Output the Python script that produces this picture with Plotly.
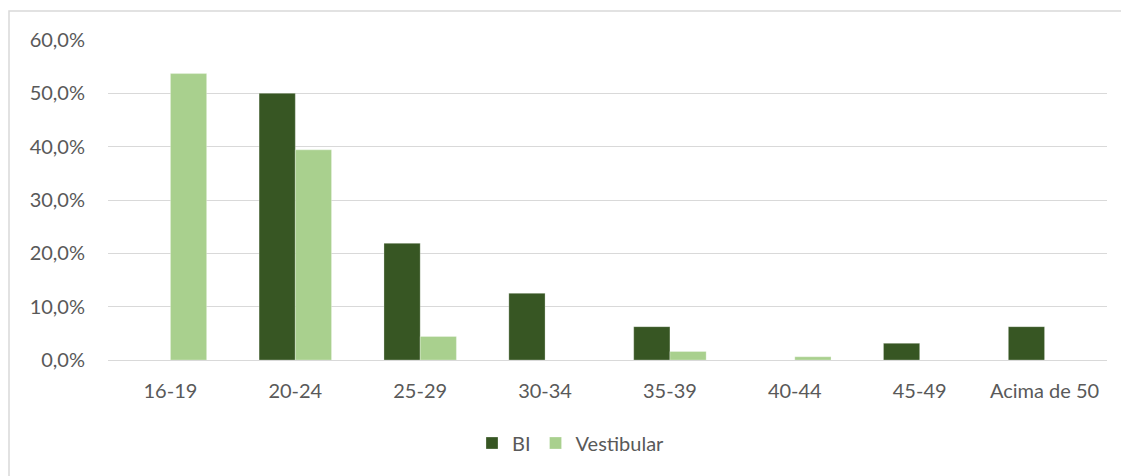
import plotly.graph_objects as go

# Faixas etárias e percentual de ingressantes por forma de ingresso
categorias = ["16-19", "20-24", "25-29", "30-34", "35-39", "40-44", "45-49", "Acima de 50"]
bi = [0.0, 50.0, 21.875, 12.5, 6.25, 0.0, 3.125, 6.25]
vestibular = [53.7, 39.4, 4.4, 0.0, 1.6, 0.6, 0.0, 0.0]
y_ticks = [0, 10, 20, 30, 40, 50, 60]
y_tick_text = [f"{v:.1f}".replace(".", ",") + "%" for v in y_ticks]

COR_BI = "#375623"
COR_VEST = "#A9D08E"
FONTE = "Lato, Carlito, 'Liberation Sans', sans-serif"
COR_TEXTO = "#595959"
TAM = 20

W, H = 1121, 476
ML, MR, MT, MB = 108, 14, 40, 116
PW, PH = W - ML - MR, H - MT - MB

fig = go.Figure()
fig.add_trace(go.Bar(
    name="BI", x=categorias, y=bi,
    marker=dict(color=COR_BI, line=dict(color="rgba(255,255,255,0.35)", width=0.8)),
))
fig.add_trace(go.Bar(
    name="Vestibular", x=categorias, y=vestibular,
    marker=dict(color=COR_VEST, line=dict(color="rgba(255,255,255,0.35)", width=0.8)),
))

# moldura externa do gráfico
def px_x(p):
    return (p - ML) / PW

def px_y(p):
    return (H - MB - p) / PH

fig.add_shape(
    type="rect", xref="paper", yref="paper",
    x0=px_x(9), x1=px_x(1125), y0=px_y(11), y1=px_y(480),
    line=dict(color="#d9d9d9", width=1.5), fillcolor="rgba(0,0,0,0)", layer="below",
)

fig.update_layout(
    width=W, height=H,
    margin=dict(l=ML, r=MR, t=MT, b=MB),
    paper_bgcolor="white", plot_bgcolor="white",
    barmode="group", bargap=0.42, bargroupgap=0,
    separators=",.",
    font=dict(family=FONTE, size=TAM, color=COR_TEXTO),
    xaxis=dict(
        showgrid=False, showline=False, ticks="",
        tickfont=dict(family=FONTE, size=TAM, color=COR_TEXTO),
        ticklabelstandoff=17,
    ),
    yaxis=dict(
        range=[0, 60], tickvals=y_ticks, ticktext=y_tick_text,
        showgrid=True, gridcolor="#d9d9d9", gridwidth=1,
        zeroline=True, zerolinecolor="#d9d9d9", zerolinewidth=1,
        showline=False, ticks="",
        tickfont=dict(family=FONTE, size=TAM, color=COR_TEXTO),
        ticklabelstandoff=22,
    ),
    legend=dict(
        orientation="h", x=px_x(571), xanchor="center", y=px_y(443), yanchor="middle",
        font=dict(family=FONTE, size=TAM, color=COR_TEXTO),
        itemwidth=30, traceorder="normal",
    ),
    showlegend=True,
)

fig.write_html("out.html")
